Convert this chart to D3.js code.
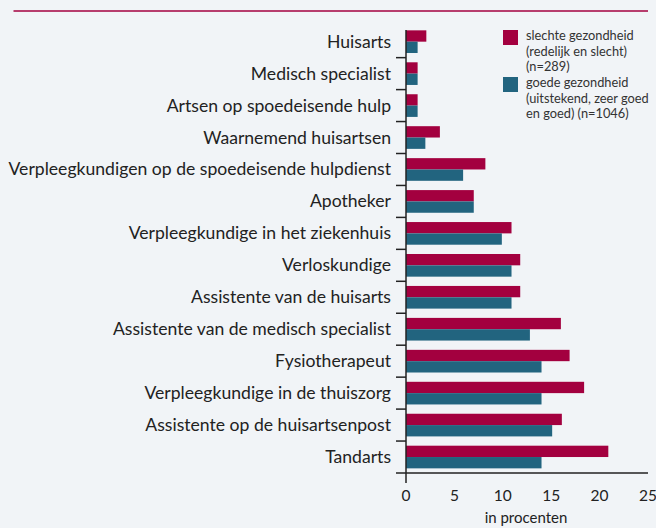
<!DOCTYPE html>
<html><head><meta charset="utf-8">
<script src="https://cdn.jsdelivr.net/npm/d3@7"></script>
<style>
html,body{margin:0;padding:0;background:#F1F4F7;}
svg{display:block;}
</style></head>
<body>
<svg id="c" width="656" height="528"></svg>
<script>
const categories = [
  "Huisarts","Medisch specialist","Artsen op spoedeisende hulp","Waarnemend huisartsen",
  "Verpleegkundigen op de spoedeisende hulpdienst","Apotheker","Verpleegkundige in het ziekenhuis",
  "Verloskundige","Assistente van de huisarts","Assistente van de medisch specialist",
  "Fysiotherapeut","Verpleegkundige in de thuiszorg","Assistente op de huisartsenpost","Tandarts"
];
const slechte = [2.1,1.2,1.2,3.5,8.2,7.0,10.9,11.8,11.8,16.0,16.9,18.4,16.1,20.9];
const goede   = [1.2,1.2,1.2,2.0,5.9,7.0,9.9,10.9,10.9,12.8,14.0,14.0,15.1,14.0];
const seriesNames = ["slechte","goede"];
const legendLabels = [
  ["slechte gezondheid","(redelijk en slecht)","(n=289)"],
  ["goede gezondheid","(uitstekend, zeer goed","en goed) (n=1046)"]
];
const xTicks = [0,5,10,15,20,25];
const xLabel = "in procenten";

const colors = {slechte:"#A3003F", goede:"#22647F"};
const font = "Lato, 'Open Sans', sans-serif";
const svg = d3.select("#c");

const x = d3.scaleLinear().domain([0,25]).range([406,648]);
const y = d3.scaleBand().domain(categories).range([25.7,473]).paddingInner(0).paddingOuter(0);
const yi = d3.scaleBand().domain(seriesNames).range([0,y.bandwidth()]).paddingInner(0).paddingOuter(0.41);

// top rule
svg.append("line").attr("x1",13.5).attr("x2",648).attr("y1",11).attr("y2",11)
  .attr("stroke","#A3003F").attr("stroke-width",1.5);

const rows = categories.map((c,i)=>({cat:c, slechte:slechte[i], goede:goede[i]}));

const g = svg.append("g");
rows.forEach(r=>{
  seriesNames.forEach(s=>{
    g.append("rect")
      .attr("x",x(0)).attr("y",y(r.cat)+yi(s))
      .attr("width",x(r[s])-x(0)).attr("height",yi.bandwidth())
      .attr("fill",colors[s]);
  });
});

// category labels
svg.append("g").selectAll("text").data(categories).join("text")
  .attr("x",391).attr("y",d=>y(d)+y.bandwidth()/2+6)
  .attr("text-anchor","end").attr("font-family",font).attr("font-size",17.6)
  .attr("fill","#222").text(d=>d);

// y ticks at boundaries
const bounds = categories.slice(1).map(c=>y(c));
svg.append("g").selectAll("line").data(bounds).join("line")
  .attr("x1",396).attr("x2",406).attr("y1",d=>d).attr("y2",d=>d)
  .attr("stroke","#222").attr("stroke-width",1.5);

// axes lines
svg.append("line").attr("x1",396).attr("x2",648).attr("y1",473).attr("y2",473)
  .attr("stroke","#222").attr("stroke-width",1.5);
svg.append("line").attr("x1",406).attr("x2",406).attr("y1",30).attr("y2",483)
  .attr("stroke","#222").attr("stroke-width",1.5);

// x tick labels
svg.append("g").selectAll("text").data(xTicks).join("text")
  .attr("x",d=>x(d)).attr("y",501).attr("text-anchor","middle")
  .attr("font-family",font).attr("font-size",15.5).attr("fill","#222").text(d=>d);
svg.append("text").attr("x",526).attr("y",523).attr("text-anchor","middle")
  .attr("font-family",font).attr("font-size",15).attr("fill","#222").text(xLabel);

// legend
const lg = svg.append("g");
seriesNames.forEach((s,i)=>{
  const top = 30 + i*47;
  lg.append("rect").attr("x",503).attr("y",top).attr("width",15).attr("height",15).attr("fill",colors[s]);
  legendLabels[i].forEach((t,j)=>{
    lg.append("text").attr("x",526).attr("y",top+10+j*15.5)
      .attr("font-family",font).attr("font-size",12.8).attr("fill","#333").text(t);
  });
});
</script>
</body></html>
